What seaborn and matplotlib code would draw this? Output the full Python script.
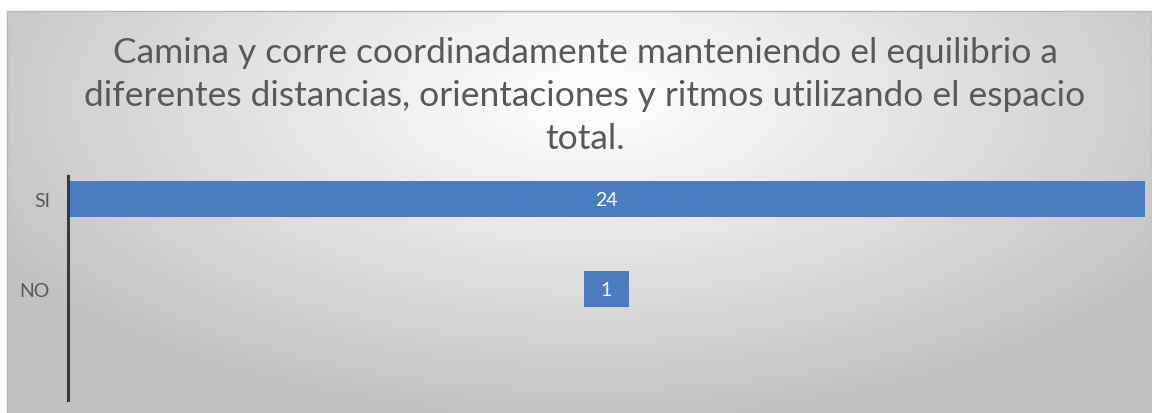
import numpy as np
import pandas as pd
import matplotlib
matplotlib.use("Agg")
import matplotlib.pyplot as plt
import seaborn as sns

# ---- data ----
categories = ["SI", "NO"]
values = [24, 1]
title_text = ("Camina y corre coordinadamente manteniendo el equilibrio a\n"
              "diferentes distancias, orientaciones y ritmos utilizando el espacio\n"
              "total.")

sns.set_theme(style="white")
plt.rcParams["font.family"] = ["Lato", "DejaVu Sans"]

W, H = 1152, 414
fig = plt.figure(figsize=(W / 100, H / 100), dpi=100)
fig.patch.set_facecolor("white")

# background panel with radial gradient
bg = fig.add_axes([7 / W, 0, 1 - 7 / W, 402 / H])
nx, ny = 400, 200
xs = np.linspace(7, W, nx)
ys = np.linspace(12, H, ny)
X, Y = np.meshgrid(xs, ys)
r = np.sqrt(((X - 590) / 680) ** 2 + ((Y - 100) / 320) ** 2)
g = 1.0 - 0.24 * np.clip(r, 0, 1) ** 1.1
img = np.dstack([g, g, g])
bg.imshow(img, aspect="auto", extent=[0, 1, 0, 1], origin="upper")
bg.set_xticks([]); bg.set_yticks([])
for s in bg.spines.values():
    s.set_color("#b5b5b5"); s.set_linewidth(1)
bg.set_zorder(0)

# main axes
ax = fig.add_axes([68 / W, (H - 401) / H, (1145 - 68) / W, (401 - 177) / H])
ax.set_zorder(1)
ax.patch.set_alpha(0)
df = pd.DataFrame({"cat": categories, "val": values})
sns.barplot(data=df, x="val", y="cat", orient="h", color="#4a7dbf",
            saturation=1, width=0.4, ax=ax)
vmax = max(values)
for p, v in zip(ax.patches, values):
    p.set_x((vmax - v) / 2)
    p.set_edgecolor("none")
    ax.text(vmax / 2, p.get_y() + p.get_height() / 2, f"{v}", color="white",
            ha="center", va="center", fontsize=14)
ax.set_xlim(0, vmax)
ax.set_ylim(2.233, -0.256)
ax.set_xlabel(""); ax.set_ylabel("")
ax.set_xticks([])
ax.tick_params(axis="y", length=0, pad=13, labelsize=14, labelcolor="#595959")
for s in ["top", "right", "bottom"]:
    ax.spines[s].set_visible(False)
ax.spines["left"].set_color("#3a3a3a")
ax.spines["left"].set_linewidth(2.2)

fig.text(585 / W, 1 - 37 / H, title_text, ha="center", va="top",
         fontsize=25.5, color="#595959", linespacing=1.42)

fig.savefig("out.png", dpi=100)
